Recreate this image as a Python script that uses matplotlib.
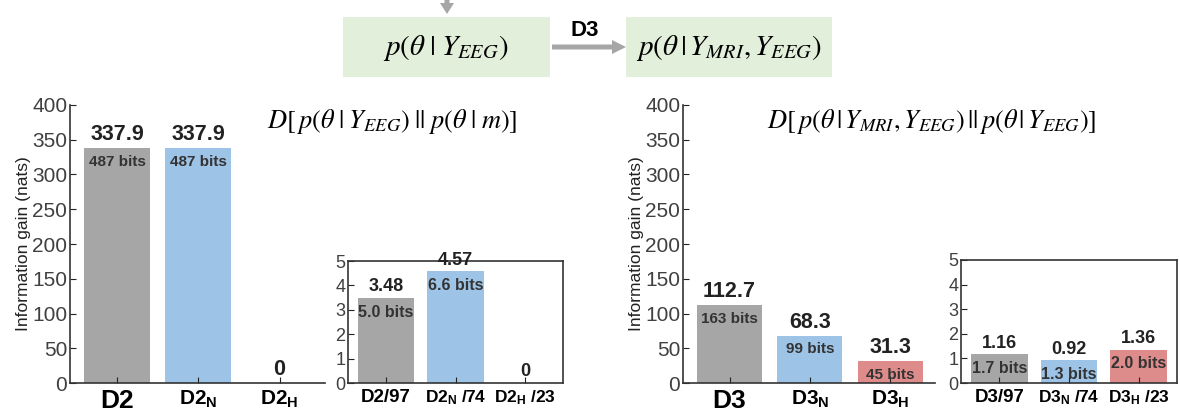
import matplotlib
matplotlib.use('Agg')
import matplotlib.pyplot as plt
from matplotlib.patches import Rectangle, FancyArrow

plt.rcParams['font.family'] = ['Liberation Sans', 'DejaVu Sans']
plt.rcParams['mathtext.fontset'] = 'custom'
plt.rcParams['mathtext.rm'] = 'Liberation Sans'
plt.rcParams['mathtext.bf'] = 'Liberation Sans:bold'
plt.rcParams['mathtext.it'] = 'Liberation Sans:italic'

# data
d2_labels = ['D2', r'D2$_\mathbf{N}$', r'D2$_\mathbf{H}$']
d2_nats = [337.9, 337.9, 0]
d2_bits = ['487 bits', '487 bits', '']
d2_norm_labels = ['D2/97', r'D2$_\mathbf{N}$ /74', r'D2$_\mathbf{H}$ /23']
d2_norm = [3.48, 4.57, 0]
d2_norm_bits = ['5.0 bits', '6.6 bits', '']

d3_labels = ['D3', r'D3$_\mathbf{N}$', r'D3$_\mathbf{H}$']
d3_nats = [112.7, 68.3, 31.3]
d3_bits = ['163 bits', '99 bits', '45 bits']
d3_norm_labels = ['D3/97', r'D3$_\mathbf{N}$ /74', r'D3$_\mathbf{H}$ /23']
d3_norm = [1.16, 0.92, 1.36]
d3_norm_bits = ['1.7 bits', '1.3 bits', '2.0 bits']

val_fmt = ['{:.1f}', '{:.2f}']

gray = '#a6a6a6'
blue = '#9dc3e6'
red = '#de8b8b'
green_box = '#e2efda'

W, H = 1180, 415
fig = plt.figure(figsize=(W / 100, H / 100), dpi=100)


def px(x0, y0, x1, y1):
    # pixel box -> figure fraction
    return [x0 / W, 1 - y1 / H, (x1 - x0) / W, (y1 - y0) / H]


def bars(ax, labels, vals, bits, colors, ylim, yticks, main):
    xs = range(len(vals))
    ax.bar(xs, vals, width=0.81, color=colors, edgecolor='none')
    ax.set_ylim(ylim)
    ax.set_xlim(-0.58, 2.56)
    ax.set_yticks(yticks)
    ax.set_xticks(list(xs))
    ax.set_xticklabels(labels)
    ax.tick_params(direction='in', length=4, colors='#222222',
                   labelcolor='#404040', labelsize=15 if main else 13)
    ax.tick_params(axis='y', pad=2)
    ax.tick_params(axis='x', labelcolor='black', pad=4)
    for i, t in enumerate(ax.get_xticklabels()):
        t.set_fontweight('bold')
        if main:
            t.set_fontsize(19 if i == 0 else 15)
        else:
            t.set_fontsize(13.5 if i == 0 else 12.5)
    fmt = val_fmt[0] if main else val_fmt[1]
    for x, v, b in zip(xs, vals, bits):
        s = '0' if v == 0 else fmt.format(v)
        ax.annotate(s, (x, v), xytext=(0, 2), textcoords='offset points',
                    ha='center', va='bottom', fontweight='bold',
                    fontsize=15.5 if main else 13, color='#222222')
        if b:
            ax.annotate(b, (x, v), xytext=(0, -5), textcoords='offset points',
                        ha='center', va='top', fontweight='bold',
                        fontsize=11 if main else 11.5, color='#333333')
    for sp in ax.spines.values():
        sp.set_color('#333333')
        sp.set_linewidth(1.2)
    if main:
        ax.spines['top'].set_visible(False)
        ax.spines['right'].set_visible(False)
        ax.set_ylabel('Information gain (nats)', fontsize=12.5, color='#222222', labelpad=1)
    else:
        ax.set_xlim(-0.55, 2.55)


ax1 = fig.add_axes(px(70, 105, 325, 383))
bars(ax1, d2_labels, d2_nats, d2_bits, [gray, blue, gray], (0, 400), range(0, 401, 50), True)
ax2 = fig.add_axes(px(348, 261, 563, 383))
bars(ax2, d2_norm_labels, d2_norm, d2_norm_bits, [gray, blue, gray], (0, 5), range(0, 6), False)
ax3 = fig.add_axes(px(683, 105, 935, 383))
bars(ax3, d3_labels, d3_nats, d3_bits, [gray, blue, red], (0, 400), range(0, 401, 50), True)
ax4 = fig.add_axes(px(961, 260, 1177, 383))
bars(ax4, d3_norm_labels, d3_norm, d3_norm_bits, [gray, blue, red], (0, 5), range(0, 6), False)

# divergence formulas
fig.text(392 / W, 1 - 121 / H, r'$D[\,p(\theta\;|\;Y_{EEG})\;||\;p(\theta\;|\;m)]$',
         math_fontfamily='stix', fontsize=19, ha='center', va='center')
fig.text(932 / W, 1 - 121 / H, r'$D[\,p(\theta\,|\,Y_{MRI},Y_{EEG})\,||\,p(\theta\,|\,Y_{EEG})]$',
         math_fontfamily='stix', fontsize=19, ha='center', va='center')

# top diagram
top = fig.add_axes([0, 0, 1, 1], zorder=-1)
top.set_xlim(0, W)
top.set_ylim(H, 0)
top.axis('off')
top.add_patch(Rectangle((343, 17), 207, 60, color=green_box, lw=0))
top.add_patch(Rectangle((626, 17), 206, 60, color=green_box, lw=0))
top.text(446, 48, r'$p(\theta\;|\;Y_{EEG})$', math_fontfamily='stix',
         fontsize=21, ha='center', va='center')
top.text(729, 48, r'$p(\theta\,|\,Y_{MRI},Y_{EEG})$', math_fontfamily='stix',
         fontsize=21, ha='center', va='center')
top.add_patch(FancyArrow(552, 47, 60, 0, width=5, head_width=14, head_length=14,
                         length_includes_head=False, color=gray, lw=0))
top.add_patch(FancyArrow(447, 0, 0, 3, width=5, head_width=14, head_length=11,
                         color=gray, lw=0))
top.text(585, 30, 'D3', fontsize=16, fontweight='bold', ha='center', va='center')

fig.savefig('out.png', dpi=100)
